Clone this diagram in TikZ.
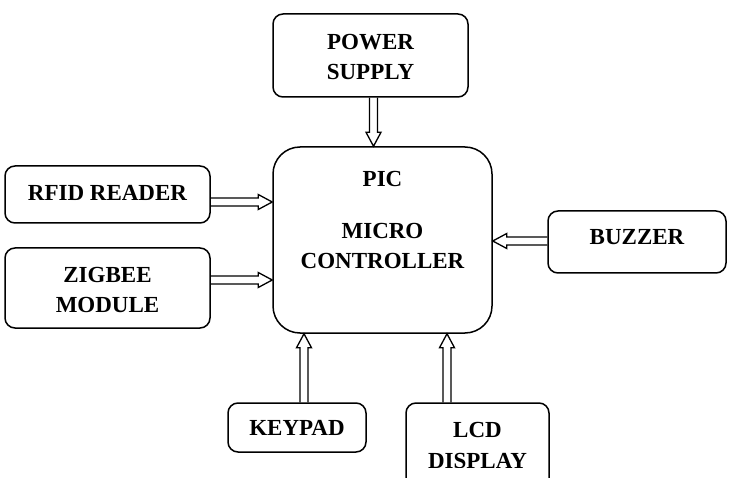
\documentclass[tikz,border=0pt]{standalone}
\usepackage{fontspec}
\setmainfont{Liberation Serif}
\usetikzlibrary{calc}
\tikzset{
  block/.style={draw, line width=1.5pt, rounded corners=10pt, inner sep=0pt},
  label text/.style={font=\fontsize{23}{30}\selectfont\bfseries, align=center, inner sep=0pt},
  arrowline/.style={draw, line width=1.3pt, line join=miter},
}
% hollow block arrow from #1 to #2: shaft 8pt wide, head 15pt wide, 14pt long
\newcommand\blockarrow[2]{%
  \path[arrowline] let \p1=(#1), \p2=(#2),
      \n1={atan2(\y2-\y1,\x2-\x1)}, \n2={veclen(\x2-\x1,\y2-\y1)} in
    [shift={(\p1)}, rotate=\n1, x=1pt, y=1pt]
    (0,-4) -- (\n2-14,-4) -- (\n2-14,-7.5) -- (\n2,0) -- (\n2-14,7.5) -- (\n2-14,4) -- (0,4);}
\begin{document}
\begin{tikzpicture}[x=1pt, y=-1pt]
  \useasboundingbox[fill=white] (0,0) rectangle (736,478);

  % blocks
  \node[block, minimum width=195pt, minimum height=83pt] (pwr) at (370.5,55.5) {};
  \node[block, rounded corners=27pt, minimum width=219pt, minimum height=186pt] (pic) at (382.5,240) {};
  \node[block, minimum width=205pt, minimum height=57pt] (rfid) at (107.5,194.5) {};
  \node[block, minimum width=205pt, minimum height=80pt] (zig) at (107.5,288) {};
  \node[block, minimum width=178pt, minimum height=62pt] (buz) at (637,242) {};
  \node[block, minimum width=138pt, minimum height=49pt] (kp) at (297,427.5) {};
  \node[block, minimum width=143pt, minimum height=100pt] (lcd) at (477.5,453) {};

  % labels
  \node[label text] (pwrtext) at (370.5,57) {POWER\\SUPPLY};
  \node[label text, anchor=base] (pictext) at (382.5,187) {PIC};
  \node[label text, anchor=base] (microtext) at (382.5,239) {MICRO};
  \node[label text, anchor=base] (ctrltext) at (382.5,269) {CONTROLLER};
  \node[label text] (rfidtext) at (107.5,192.5) {RFID READER};
  \node[label text] (zigtext) at (107.5,290) {ZIGBEE\\MODULE};
  \node[label text] (buztext) at (637,237) {BUZZER};
  \node[label text] (kptext) at (297,427.5) {KEYPAD};
  \node[label text, anchor=base] (lcdtext) at (477.5,437) {LCD};
  \begin{scope}
    \clip (406,445) rectangle (549,467);
    \node[label text, anchor=base] (disptext) at (477.5,468) {DISPLAY};
  \end{scope}

  % connections
  \blockarrow{[xshift=3pt]pwr.south}{[xshift=3pt]pwr.south |- pic.north}
  \blockarrow{[yshift=-7.5pt]rfid.east}{[yshift=-7.5pt]rfid.east -| pic.west}
  \blockarrow{[yshift=8pt]zig.east}{[yshift=8pt]zig.east -| pic.west}
  \blockarrow{[yshift=1pt]buz.west}{[yshift=1pt]buz.west -| pic.east}
  \blockarrow{[xshift=7pt]kp.north}{[xshift=7pt]kp.north |- pic.south}
  \blockarrow{[xshift=-30.5pt]lcd.north}{[xshift=-30.5pt]lcd.north |- pic.south}
\end{tikzpicture}
\end{document}
